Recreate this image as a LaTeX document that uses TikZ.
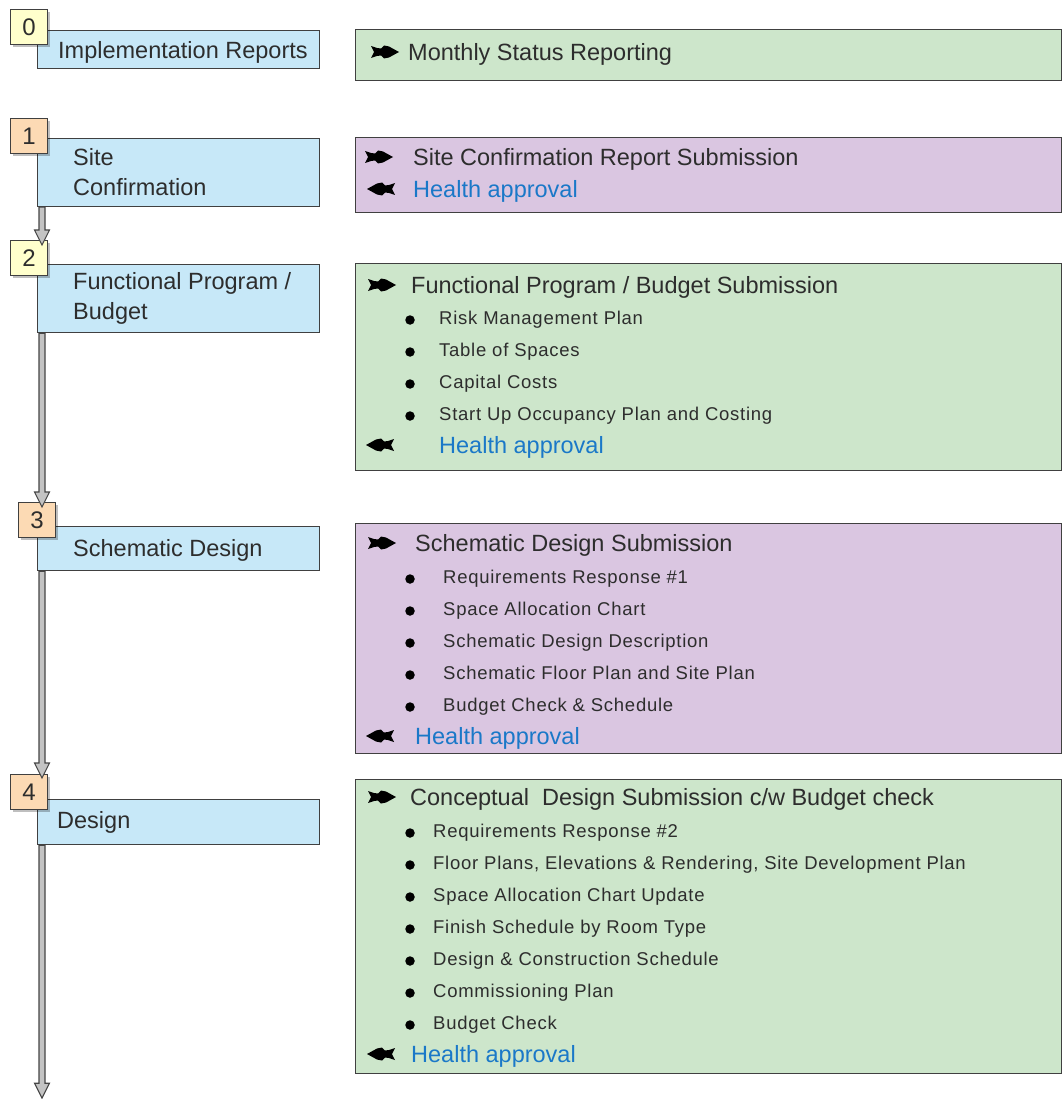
\documentclass[tikz,border=0pt]{standalone}
\usepackage{fontspec}
\setmainfont{Liberation Sans}
\usetikzlibrary{calc,shadows}
\definecolor{boxblue}{RGB}{199,232,248}
\definecolor{boxgreen}{RGB}{205,230,203}
\definecolor{boxpurple}{RGB}{218,198,225}
\definecolor{badgeyellow}{RGB}{255,255,204}
\definecolor{badgepeach}{RGB}{252,218,180}
\definecolor{edgecol}{RGB}{64,64,64}
\definecolor{txt}{RGB}{45,45,45}
\definecolor{hblue}{RGB}{26,120,200}
\definecolor{arrowfill}{RGB}{195,195,195}
\definecolor{arrowline}{RGB}{70,70,70}
\tikzset{
  lbox/.style={draw=edgecol, line width=1.2pt, fill=boxblue, anchor=north west, inner sep=0, minimum width=282pt},
  rbox/.style={draw=edgecol, line width=1.2pt, anchor=north west, inner sep=0, minimum width=706pt},
  badge/.style={draw=edgecol, line width=1.2pt, anchor=north west, minimum width=37pt, minimum height=35pt, inner sep=0,
    font=\fontsize{24}{24}\selectfont, text=txt,
    drop shadow={shadow xshift=2pt, shadow yshift=-2pt, opacity=0.25, fill=black}},
  main/.style={anchor=west, inner sep=0, text=txt, font=\fontsize{23.5}{30}\selectfont, text height=17pt, text depth=0pt},
  multi/.style={anchor=west, inner sep=0, text=txt, align=left, font=\fontsize{23.5}{30}\selectfont},
  health/.style={main, text=hblue},
  sub/.style={anchor=west, inner sep=0, text=txt, font=\fontsize{18.5}{20}\selectfont\addfontfeature{LetterSpace=4}, text height=13pt, text depth=0pt},
  dot/.style={circle, fill=black, inner sep=0, minimum size=9.5pt},
  blockarrow/.style={draw=arrowline, fill=arrowfill, line width=1.1pt, line join=miter, to path={
    let \p1=(\tikztostart), \p2=(\tikztotarget) in
    (\x1-3pt,\y1) -- (\x1-3pt,\y2+15pt) -- (\x1-7.5pt,\y2+15pt) -- (\x1,\y2)
    -- (\x1+7.5pt,\y2+15pt) -- (\x1+3pt,\y2+15pt) -- (\x1+3pt,\y1) -- cycle}},
  pics/rarrow/.style={code={\fill[black] (0,-6) -- (6,-4) -- (10,-3.5) -- (13,-6.5) -- (18,-5.5) -- (28,0)
      -- (18,5.5) -- (13,6.5) -- (10,3.5) -- (6,4) -- (0,6) -- (3,0) -- cycle;}},
  pics/larrow/.style={code={\fill[black] (28,-6) -- (22,-4) -- (18,-3.5) -- (15,-6.5) -- (10,-5.5) -- (0,0)
      -- (10,5.5) -- (15,6.5) -- (18,3.5) -- (22,4) -- (28,6) -- (25,0) -- cycle;}}
}
\begin{document}
\begin{tikzpicture}[x=1pt, y=-1pt]
\useasboundingbox (0,0) rectangle (1062,1099);
\fill[white] (0,0) rectangle (1062,1099);

% right boxes
\node[rbox, fill=boxgreen,  minimum height=51pt]  (r0) at (355,29)  {};
\node[rbox, fill=boxpurple, minimum height=75pt]  (r1) at (355,137) {};
\node[rbox, fill=boxgreen,  minimum height=207pt] (r2) at (355,263) {};
\node[rbox, fill=boxpurple, minimum height=230pt] (r3) at (355,523) {};
\node[rbox, fill=boxgreen,  minimum height=294pt] (r4) at (355,779) {};

% left boxes
\node[lbox, minimum height=38pt] (b0) at (37,30)  {};
\node[lbox, minimum height=68pt] (b1) at (37,138) {};
\node[lbox, minimum height=68pt] (b2) at (37,264) {};
\node[lbox, minimum height=44pt] (b3) at (37,526) {};
\node[lbox, minimum height=45pt] (b4) at (37,799) {};

% badges
\node[badge, fill=badgeyellow] (bd0) at (10,9)   {0};
\node[badge, fill=badgepeach]  (bd1) at (10,118) {1};
\node[badge, fill=badgeyellow] (bd2) at (10,240) {2};
\node[badge, fill=badgepeach]  (bd3) at (18,502) {3};
\node[badge, fill=badgepeach]  (bd4) at (10,774) {4};

% left labels
\node[main]  (lt0) at (58,50)  {Implementation Reports};
\node[multi] (lt1) at (73,172) {Site\\Confirmation};
\node[multi] (lt2) at (73,298) {Functional Program /\\Budget};
\node[main]  (lt3) at (73,548) {Schematic Design};
\node[main]  (lt4) at (57,820) {Design};

% box 0
\pic at (371,52) {rarrow};
\node[main] (r0t) at (408,52) {Monthly Status Reporting};

% box 1
\pic at (365,157) {rarrow};
\node[main] (r1t) at (413,157) {Site Confirmation Report Submission};
\pic at (367,189) {larrow};
\node[health] (r1h) at (413,189) {Health approval};

% box 2
\pic at (368,285) {rarrow};
\node[main] (r2t) at (411,285) {Functional Program / Budget Submission};
\foreach \y/\t [count=\i] in {318/{Risk Management Plan}, 350/{Table of Spaces}, 382/{Capital Costs}, 414/{Start Up Occupancy Plan and Costing}}{
  \node[dot] (r2d\i) at (410,\y+2) {};
  \node[sub] (r2i\i) at (439,\y) {\t};
}
\pic at (366,445) {larrow};
\node[health] (r2h) at (439,445) {Health approval};

% box 3
\pic at (368,543) {rarrow};
\node[main] (r3t) at (415,543) {Schematic Design Submission};
\foreach \y/\t [count=\i] in {577/{Requirements Response \#1}, 609/{Space Allocation Chart}, 641/{Schematic Design Description}, 673/{Schematic Floor Plan and Site Plan}, 705/{Budget Check \& Schedule}}{
  \node[dot] (r3d\i) at (410,\y+2) {};
  \node[sub] (r3i\i) at (443,\y) {\t};
}
\pic at (366,736) {larrow};
\node[health] (r3h) at (415,736) {Health approval};

% box 4
\pic at (368,797) {rarrow};
\node[main] (r4t) at (410,797) {Conceptual~~Design Submission c/w Budget check};
\foreach \y/\t [count=\i] in {831/{Requirements Response \#2}, 863/{Floor Plans, Elevations \& Rendering, Site Development Plan}, 895/{Space Allocation Chart Update}, 927/{Finish Schedule by Room Type}, 959/{Design \& Construction Schedule}, 991/{Commissioning Plan}, 1023/{Budget Check}}{
  \node[dot] (r4d\i) at (410,\y+2) {};
  \node[sub] (r4i\i) at (433,\y) {\t};
}
\pic at (367,1054) {larrow};
\node[health] (r4h) at (411,1054) {Health approval};

% connectors
\coordinate (a1s) at ($(b1.south west)+(5,0)$);
\coordinate (a1e) at ($(a1s |- bd2.north)+(0,5)$);
\coordinate (a2s) at ($(b2.south west)+(5,0)$);
\coordinate (a2e) at ($(a2s |- bd3.north)+(0,5)$);
\coordinate (a3s) at ($(b3.south west)+(5,0)$);
\coordinate (a3e) at ($(a3s |- bd4.north)+(0,4)$);
\coordinate (a4s) at ($(b4.south west)+(5,0)$);
\coordinate (a4e) at ($(a4s)+(0,253)$);
\draw[blockarrow] (a1s) to (a1e);
\draw[blockarrow] (a2s) to (a2e);
\draw[blockarrow] (a3s) to (a3e);
\draw[blockarrow] (a4s) to (a4e);
\end{tikzpicture}
\end{document}
